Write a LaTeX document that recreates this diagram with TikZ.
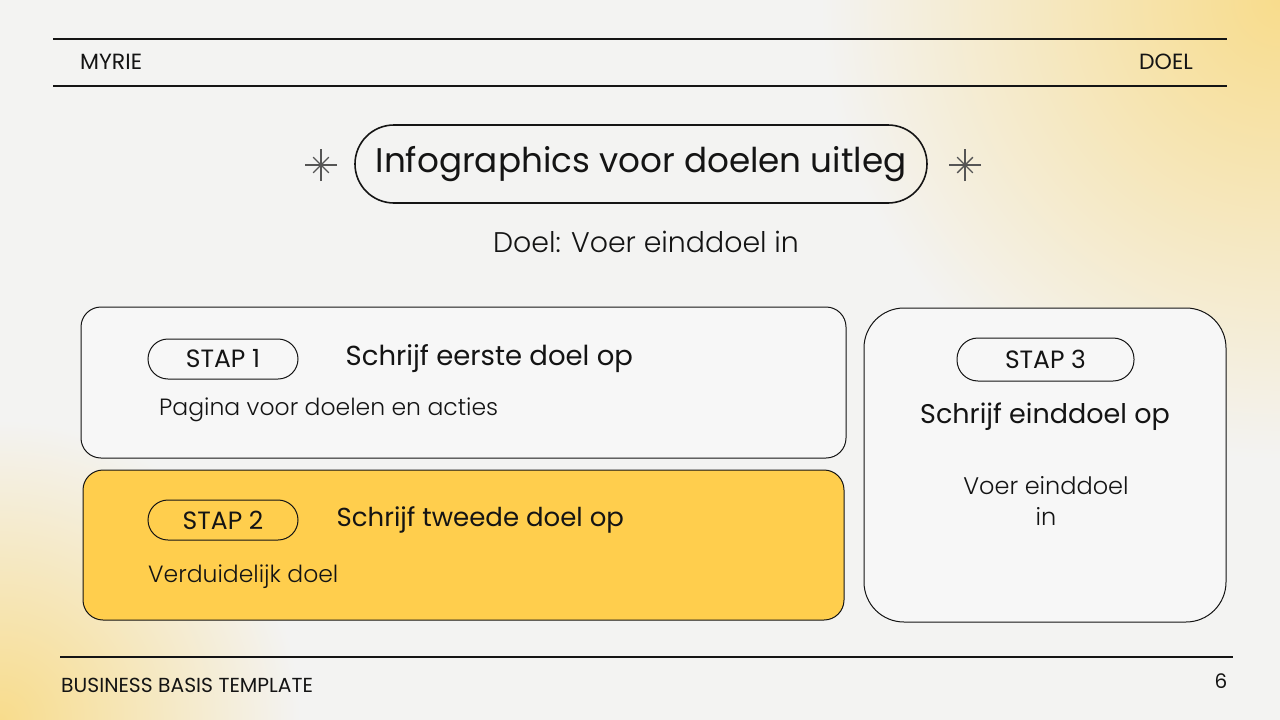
\documentclass[tikz,border=0pt]{standalone}
\usepackage{fontspec}
\setmainfont{Poppins}
\newfontfamily\thinfont{Poppins Light}
\usetikzlibrary{positioning}
\definecolor{bggray}{HTML}{F3F3F2}
\definecolor{sunyellow}{HTML}{FFCE4D}
\definecolor{warmglow}{HTML}{F8DC8C}
\definecolor{inkblack}{HTML}{141414}
\definecolor{boxwhite}{HTML}{F7F7F7}
\definecolor{sparkgray}{HTML}{555555}

\begin{document}
\begin{tikzpicture}[x=1pt, y=-1pt,
  rule/.style={line width=1.6pt, draw=inkblack},
  card/.style={draw=inkblack, line width=1pt, rounded corners=20pt, inner sep=0pt},
  tag/.style={draw=inkblack, line width=1pt, rounded corners=20pt, minimum width=150pt, minimum height=40pt, inner sep=0pt, font=\fontsize{25}{28}\selectfont, text=inkblack},
  head/.style={font=\fontsize{27.5}{32}\selectfont, text=inkblack, inner sep=0pt},
  body/.style={font=\thinfont\fontsize{23.5}{31}\selectfont, text=inkblack, inner sep=0pt},
  small/.style={font=\fontsize{22}{26}\selectfont, text=inkblack, inner sep=0pt},
  sparkle/.style={draw=sparkgray, line width=1.4pt}]

% background
\useasboundingbox (0,0) rectangle (1280,720);
\begin{scope}
\clip (0,0) rectangle (1280,720);
\fill[bggray] (0,0) rectangle (1280,720);
\shade[inner color=warmglow, outer color=bggray] (1280,0) circle (460);
\shade[inner color=warmglow, outer color=bggray] (0,720) circle (300);
\end{scope}

% header and footer rules
\coordinate (htl) at (53,39);  \coordinate (htr) at (1227,39);
\coordinate (hbl) at (53,86);  \coordinate (hbr) at (1227,86);
\coordinate (fl) at (60,657);  \coordinate (fr) at (1233,657);
\draw[rule] (htl) -- (htr);
\draw[rule] (hbl) -- (hbr);
\draw[rule] (fl) -- (fr);

\node[small, anchor=west] (brand) at (80,62) {MYRIE};
\node[small, anchor=east] (section) at (1193,62) {DOEL};
\node[small, anchor=west, font=\fontsize{20.3}{24}\selectfont] (footer) at (61,685) {BUSINESS BASIS TEMPLATE};
\node[small, font=\fontsize{20}{24}\selectfont] (pagenum) at (1221,681) {6};

% title
\node[draw=inkblack, line width=1.6pt, rounded corners=39pt, minimum width=572pt, minimum height=78pt, inner sep=0pt, font=\fontsize{34.2}{40}\selectfont, text=inkblack] (title) at (641,164) {Infographics voor doelen uitleg};
\coordinate (spl) at (321,165);
\coordinate (spr) at (965,165);
\foreach \c in {spl,spr}
  \foreach \a/\r in {0/16,45/11,90/16,135/11}
    \draw[sparkle] ([shift={(\a:\r)}]\c) -- ([shift={(\a+180:\r)}]\c);
\node[body, font=\thinfont\fontsize{28.4}{32}\selectfont] (subtitle) at (646,242) {Doel: Voer einddoel in};

% cards
\node[card, fill=boxwhite, minimum width=765pt, minimum height=151pt] (card1) at (463.5,382.5) {};
\node[card, fill=sunyellow, minimum width=761pt, minimum height=150pt] (card2) at (463.5,545) {};
\node[card, fill=boxwhite, rounded corners=40pt, minimum width=362pt, minimum height=314pt] (card3) at (1045,465) {};

% step 1
\node[tag] (tag1) at (223,359) {STAP 1};
\node[head, right=47pt of tag1] (goal1) {Schrijf eerste doel op};
\node[body, anchor=west] (desc1) at (159,410) {Pagina voor doelen en acties};

% step 2
\node[tag] (tag2) at (223,520) {STAP 2};
\node[head, font=\fontsize{26}{32}\selectfont, right=38pt of tag2] (goal2) {Schrijf tweede doel op};
\node[body, anchor=west] (desc2) at (148,577) {Verduidelijk doel};

% step 3
\node[tag, minimum width=177pt, minimum height=43pt, rounded corners=21pt] (tag3) at (1045.5,359.5) {STAP 3};
\node[head, font=\fontsize{27}{32}\selectfont] (goal3) at (1045,417) {Schrijf einddoel op};
\node[body, align=center, font=\thinfont\fontsize{24}{31}\selectfont] (desc3) at (1046,501) {Voer einddoel\\in};
\end{tikzpicture}
\end{document}
